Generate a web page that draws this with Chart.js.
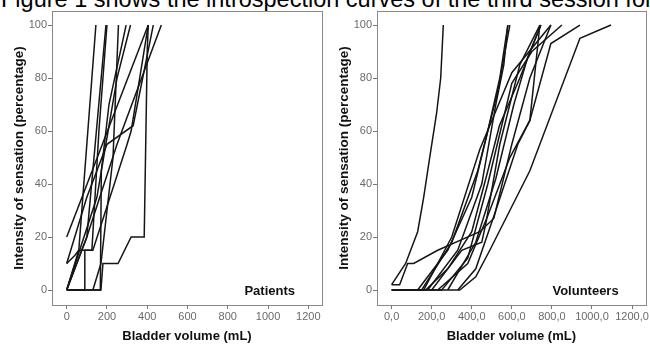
<!DOCTYPE html>
<html><head><meta charset="utf-8">
<script src="https://cdn.jsdelivr.net/npm/chart.js@4/dist/chart.umd.min.js"></script>
<style>
html,body{margin:0;padding:0;background:#fff;overflow:hidden;width:650px;height:344px;}
#cap{position:absolute;left:1px;top:-14px;font:23.5px/1.15 "Liberation Sans",Arial,sans-serif;color:#000;white-space:nowrap;}
canvas{position:absolute;top:0;}
#c1{left:0;} #c2{left:325px;}
</style></head><body>
<div id="cap">Figure 1 shows the introspection curves of the third session for patients and volunteers</div>
<canvas id="c1" width="325" height="344"></canvas>
<canvas id="c2" width="325" height="344"></canvas>
<script>
// ---- data (bladder volume in mL, intensity in %) ----
const xTicks = [0, 200, 400, 600, 800, 1000, 1200];
const yTicks = [0, 20, 40, 60, 80, 100];
const panelLabels = ["Patients", "Volunteers"];

const patientVolumes = [
  [0, 405],
  [0, 40, 60, 130, 300, 320, 405],
  [0, 90, 90, 125, 160, 200],
  [0, 60, 145],
  [0, 170, 180, 255, 320, 385, 400, 405],
  [0, 100, 195],
  [130, 170, 230, 257],
  [0, 167, 172, 210, 295],
  [0, 100, 200, 330, 430],
  [0, 150, 250, 317],
  [0, 100, 250, 470]
];
const patientIntensities = [
  [20, 100],
  [10, 13, 15, 15, 55, 60, 100],
  [0, 0, 15, 15, 60, 100],
  [0, 15, 100],
  [0, 0, 10, 10, 20, 20, 90, 100],
  [0, 20, 100],
  [0, 10, 50, 100],
  [0, 0, 45, 70, 100],
  [10, 35, 55, 62, 100],
  [0, 35, 80, 100],
  [0, 20, 55, 100]
];

const volunteerVolumes = [
  [0, 70, 130, 160, 190, 225, 245, 258],
  [0, 40, 80, 110, 230, 350, 440, 510, 600, 690, 795],
  [0, 160, 300, 440, 600, 795],
  [130, 280, 400, 480, 540, 580],
  [150, 300, 430, 530, 590],
  [170, 280, 400, 470, 538, 640, 745],
  [200, 350, 450, 470, 540, 640, 740],
  [230, 380, 480, 590, 690, 795, 940],
  [330, 420, 520, 630, 690, 740],
  [0, 340, 420, 490, 690, 940, 1095],
  [180, 330, 450, 520, 560, 580],
  [0, 250, 380, 480, 600, 700, 850],
  [280, 420, 520, 610, 680, 745]
];
const volunteerIntensities = [
  [2, 10, 22, 35, 50, 67, 80, 100],
  [2, 2, 10, 10, 15, 19, 22, 27, 55, 80, 100],
  [0, 0, 20, 53, 82, 100],
  [0, 15, 35, 60, 80, 100],
  [0, 18, 45, 75, 100],
  [0, 8, 22, 42, 62, 80, 100],
  [0, 15, 18, 25, 55, 85, 100],
  [0, 10, 28, 50, 64, 93, 100],
  [0, 8, 30, 55, 64, 100],
  [0, 0, 5, 15, 45, 95, 100],
  [0, 15, 40, 70, 85, 100],
  [0, 0, 12, 40, 78, 90, 100],
  [0, 18, 42, 70, 88, 100]
];

// ---- rendering ----
const FONT = '"Liberation Sans", Arial, sans-serif';
const framePlugin = {
  id: 'frame',
  afterDraw(chart) {
    const a = chart.chartArea, ctx = chart.ctx;
    ctx.save();
    ctx.strokeStyle = '#8a8a8a';
    ctx.lineWidth = 1;
    ctx.strokeRect(Math.round(a.left) + 0.5, Math.round(a.top) + 0.5, Math.round(a.right - a.left), Math.round(a.bottom - a.top));
    ctx.restore();
  }
};
const labelPlugin = {
  id: 'panelLabel',
  afterDraw(chart, args, opts) {
    const a = chart.chartArea, ctx = chart.ctx;
    ctx.save();
    ctx.font = 'bold 13px ' + FONT;
    ctx.fillStyle = '#111';
    ctx.textAlign = 'right';
    ctx.textBaseline = 'middle';
    ctx.fillText(opts.text, a.right - 27, 291);
    ctx.restore();
  }
};

function makeChart(id, vols, ints, label, fmt) {
  const datasets = vols.map((v, i) => ({
    data: v.map((x, j) => ({x: x, y: ints[i][j]})),
    showLine: true,
    borderColor: '#151515',
    borderWidth: 1.5,
    pointRadius: 0,
    tension: 0,
    fill: false
  }));
  return new Chart(document.getElementById(id), {
    type: 'scatter',
    data: {datasets},
    plugins: [framePlugin, labelPlugin],
    options: {
      responsive: false,
      animation: false,
      devicePixelRatio: 1,
      layout: {padding: {left: 8, top: 11, right: 3, bottom: 0}},
      plugins: {legend: {display: false}, tooltip: {enabled: false}, panelLabel: {text: label}},
      scales: {
        x: {
          type: 'linear', min: -73, max: 1268,
          afterBuildTicks: s => { s.ticks = xTicks.map(v => ({value: v})); },
          afterFit: s => { s.height = 39; },
          grid: {display: true, drawOnChartArea: false, drawTicks: true, tickLength: 4, color: '#777'},
          border: {display: true, color: '#777'},
          ticks: {color: '#6a6a6a', font: {family: FONT, size: 11}, padding: 1, maxRotation: 0, callback: v => fmt(v)},
          title: {display: true, text: 'Bladder volume (mL)', color: '#111', font: {family: FONT, size: 13, weight: 'bold'}, padding: {top: 0, bottom: 0}}
        },
        y: {
          type: 'linear', min: -5.66, max: 105.3,
          afterBuildTicks: s => { s.ticks = yTicks.map(v => ({value: v})); },
          afterFit: s => { s.width = 44; },
          grid: {display: true, drawOnChartArea: false, drawTicks: true, tickLength: 4, color: '#777'},
          border: {display: true, color: '#777'},
          ticks: {color: '#6a6a6a', font: {family: FONT, size: 11}, padding: 1},
          title: {display: true, text: 'Intensity of sensation (percentage)', color: '#111', font: {family: FONT, size: 13.5, weight: 'bold'}, padding: {top: 3, bottom: 0}}
        }
      }
    }
  });
}
makeChart('c1', patientVolumes, patientIntensities, panelLabels[0], v => String(v));
makeChart('c2', volunteerVolumes, volunteerIntensities, panelLabels[1], v => v.toFixed(1).replace('.', ','));
</script>
</body></html>
